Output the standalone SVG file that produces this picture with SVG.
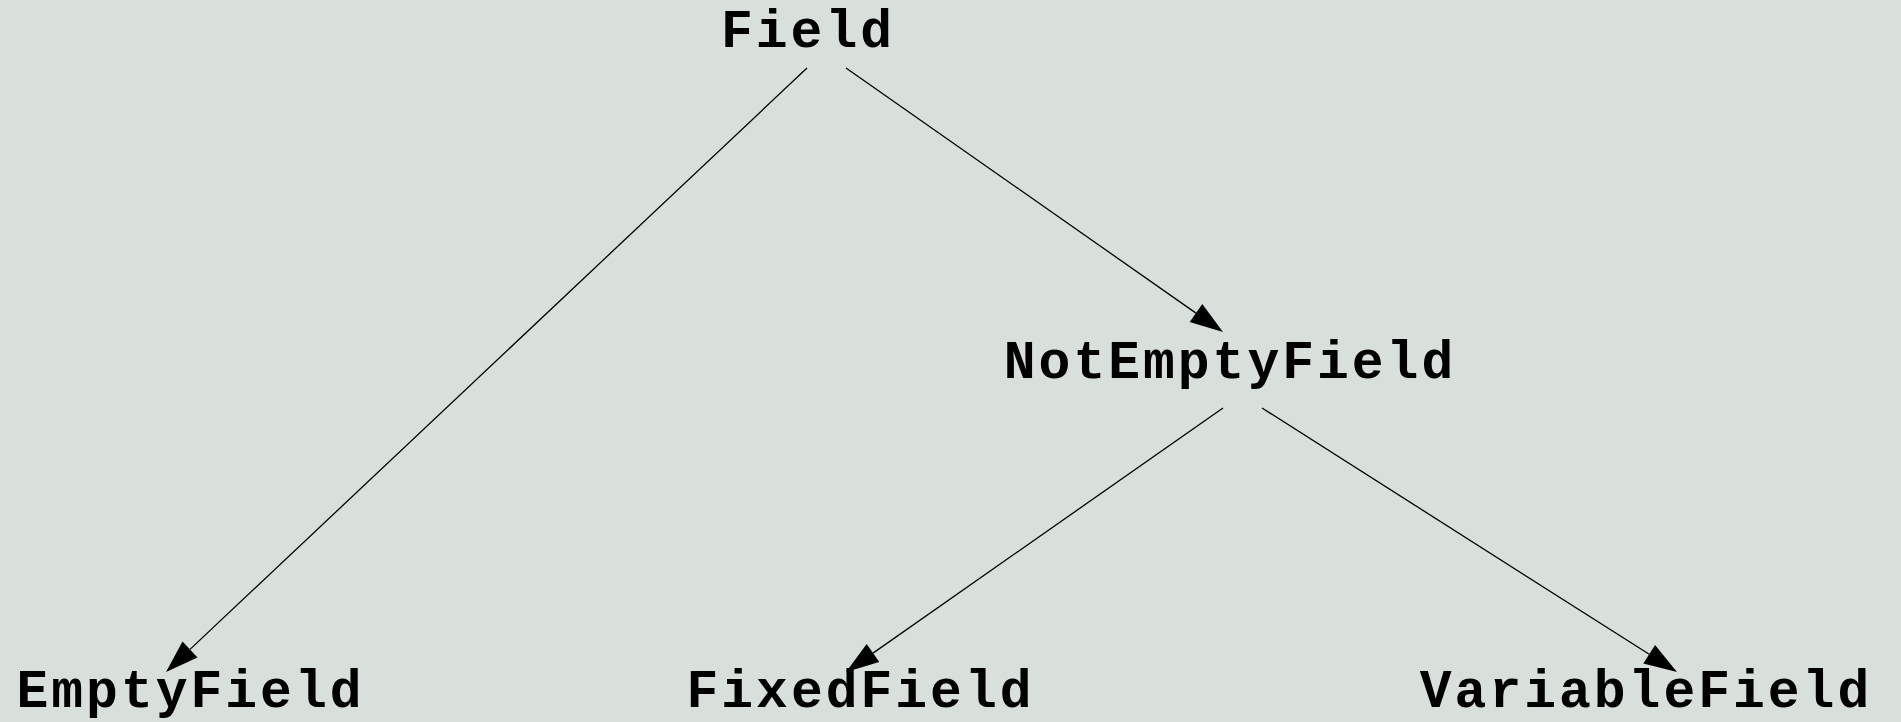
<svg xmlns="http://www.w3.org/2000/svg" width="1901" height="722" viewBox="0 0 1901 722">
<style>
.lbl{font-family:"Liberation Mono","Courier New",monospace;font-weight:bold;font-size:53px;letter-spacing:3px;fill:#000;text-anchor:middle}
.edge{stroke:#000;stroke-width:1.3;fill:none}
.head{fill:#000;stroke:none}
</style>
<rect width="1901" height="722" fill="#d9dfdb"/>
<g id="connectors">
<line class="edge" x1="807" y1="68" x2="190" y2="649.4"/>
<polygon class="head" points="166,672 197.5,657.4 182.5,641.4"/>
<line class="edge" x1="846" y1="68" x2="1196" y2="313.1"/>
<polygon class="head" points="1223,332 1189.7,322.1 1202.3,304.1"/>
<line class="edge" x1="1223" y1="408" x2="873" y2="653.1"/>
<polygon class="head" points="846,672 879.3,662.1 866.7,644.1"/>
<line class="edge" x1="1262" y1="408" x2="1649.2" y2="654.3"/>
<polygon class="head" points="1677,672 1643.3,663.6 1655.1,645.0"/>
</g>
<g id="node-Field"><text class="lbl" x="808" y="47">Field</text></g>
<g id="node-NotEmptyField"><text class="lbl" x="1230" y="378">NotEmptyField</text></g>
<g id="node-EmptyField"><text class="lbl" x="190.5" y="707">EmptyField</text></g>
<g id="node-FixedField"><text class="lbl" x="860.5" y="707">FixedField</text></g>
<g id="node-VariableField"><text class="lbl" x="1646" y="707">VariableField</text></g>
</svg>
